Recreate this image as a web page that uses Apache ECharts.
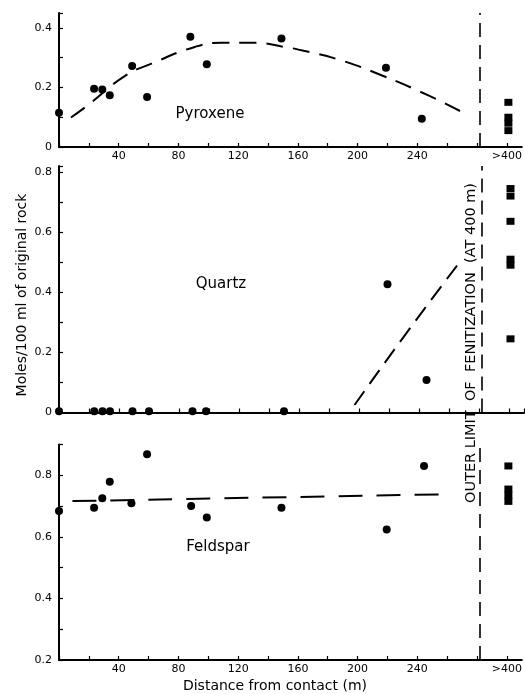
<!DOCTYPE html>
<html>
    <head>
        <meta charset="utf-8">
        <script src="https://cdn.jsdelivr.net/npm/echarts@6/dist/echarts.min.js"></script>
    </head>
    <body>
        <style>
            html, body, #main {
                width: 100%;
                height: 100%;
                margin: 0;
                background: #fff;
            }
        </style>
        <div id='main'></div>
        <script>
            // samples, distance from contact (m); ">400" samples are drawn at x = 301
            var pyrDist = [0, 23.5, 29, 34, 49, 59, 88, 99, 149, 219, 243];
            var pyrVal = [0.115, 0.196, 0.193, 0.174, 0.272, 0.168, 0.37, 0.278, 0.364, 0.266, 0.095];
            var pyrFar = [0.15, 0.10, 0.08, 0.055];
            var pyrFitX = [8, 20, 44, 62, 91, 109, 131, 151, 164, 187, 216, 247, 272];
            var pyrFitY = [0.099, 0.143, 0.238, 0.28, 0.336, 0.35, 0.35, 0.336, 0.323, 0.294, 0.241, 0.174, 0.112];

            var qtzDist = [0, 23.5, 29, 34, 49, 60, 89, 98, 150, 219, 245];
            var qtzVal = [0.004, 0.004, 0.004, 0.004, 0.004, 0.004, 0.004, 0.004, 0.004, 0.427, 0.108];
            var qtzFar = [0.745, 0.72, 0.636, 0.51, 0.49, 0.245];
            var qtzFitX = [197, 231, 266];
            var qtzFitY = [0.025, 0.26, 0.493];

            var felDist = [0, 23.5, 29, 34, 48.5, 59, 88.5, 99, 149, 219.5, 244.5];
            var felVal = [0.684, 0.694, 0.725, 0.779, 0.709, 0.868, 0.70, 0.663, 0.694, 0.624, 0.83];
            var felFar = [0.83, 0.755, 0.735, 0.715];
            var felFitX = [9, 258];
            var felFitY = [0.716, 0.738];

            var farX = 301;
            var limitX = 281.5;
            var xTickLabels = {40: '40', 80: '80', 120: '120', 160: '160', 200: '200', 240: '240', 300: '>400'};

            var font = 'DejaVu Sans';

            function zip(xs, ys) {
                return xs.map(function (x, i) { return [x, ys[i]]; });
            }
            function far(ys) {
                return ys.map(function (y) { return [farX, y]; });
            }

            var chart = echarts.init(document.getElementById('main'));

            function xAxis(idx, showLabels) {
                return {
                    type: 'value', gridIndex: idx, min: 0, max: 310, interval: 20,
                    axisLine: {lineStyle: {color: '#000', width: 2}},
                    axisTick: {inside: true, length: 4, lineStyle: {color: '#000', width: 1.2}},
                    splitLine: {show: false},
                    axisLabel: {
                        show: showLabels, color: '#000', fontSize: 11, fontFamily: font, margin: 4,
                        showMaxLabel: false,
                        formatter: function (v) { return xTickLabels[v] || ''; }
                    }
                };
            }
            function yAxis(idx, min, max) {
                return {
                    type: 'value', gridIndex: idx, min: min, max: max, interval: 0.1,
                    axisLine: {show: true, lineStyle: {color: '#000', width: 2}},
                    axisTick: {show: true, inside: true, length: 4, lineStyle: {color: '#000', width: 1.2}},
                    splitLine: {show: false},
                    axisLabel: {
                        color: '#000', fontSize: 11, fontFamily: font, margin: 7,
                        formatter: function (v) {
                            var r = Math.round(v * 10);
                            if (Math.abs(v * 10 - r) > 1e-6 || r % 2) return '';
                            return r === 0 ? '0' : v.toFixed(1);
                        }
                    }
                };
            }
            function dots(idx, data) {
                return {type: 'scatter', xAxisIndex: idx, yAxisIndex: idx, data: data,
                    symbol: 'circle', symbolSize: 8, itemStyle: {color: '#000', opacity: 1}, z: 5};
            }
            function squares(idx, data) {
                return {type: 'scatter', xAxisIndex: idx, yAxisIndex: idx, data: data,
                    symbol: 'rect', symbolSize: [8, 7], itemStyle: {color: '#000', opacity: 1}, z: 5};
            }
            function fit(idx, data, dash) {
                return {type: 'line', xAxisIndex: idx, yAxisIndex: idx, data: data,
                    smooth: true, showSymbol: false, silent: true,
                    lineStyle: {color: '#000', width: 2, type: dash},
                    markLine: {
                        silent: true, symbol: 'none', label: {show: false},
                        lineStyle: {color: '#000', width: 1.6, type: [14, 8]},
                        data: [{xAxis: limitX}]
                    }};
            }

            var option = {
                animation: false,
                backgroundColor: '#fff',
                grid: [
                    {left: 59, width: 465, top: 13, height: 134},
                    {left: 59, width: 465, top: 166, height: 246.5},
                    {left: 59, width: 465, top: 444.4, height: 215.6}
                ],
                xAxis: [xAxis(0, true), xAxis(1, false), xAxis(2, true)],
                yAxis: [yAxis(0, 0, 0.45), yAxis(1, 0, 0.82), yAxis(2, 0.2, 0.9)],
                series: [
                    dots(0, zip(pyrDist, pyrVal)),
                    squares(0, far(pyrFar)),
                    fit(0, zip(pyrFitX, pyrFitY), [17, 10]),
                    dots(1, zip(qtzDist, qtzVal)),
                    squares(1, far(qtzFar)),
                    fit(1, zip(qtzFitX, qtzFitY), [17, 9]),
                    dots(2, zip(felDist, felVal)),
                    squares(2, far(felFar)),
                    fit(2, zip(felFitX, felFitY), [24, 14])
                ],
                graphic: [
                    {type: 'text', x: 210, y: 114, style: {text: 'Pyroxene', font: '15px DejaVu Sans', fill: '#000', align: 'center', verticalAlign: 'middle'}},
                    {type: 'text', x: 221, y: 284, style: {text: 'Quartz', font: '15px DejaVu Sans', fill: '#000', align: 'center', verticalAlign: 'middle'}},
                    {type: 'text', x: 218, y: 547, style: {text: 'Feldspar', font: '15px DejaVu Sans', fill: '#000', align: 'center', verticalAlign: 'middle'}},
                    {type: 'text', x: 22, y: 295, rotation: Math.PI / 2, style: {text: 'Moles/100 ml of original rock', font: '14px DejaVu Sans', fill: '#000', align: 'center', verticalAlign: 'middle'}},
                    {type: 'text', x: 275, y: 686, style: {text: 'Distance from contact (m)', font: '14px DejaVu Sans', fill: '#000', align: 'center', verticalAlign: 'middle'}},
                    {type: 'text', x: 471, y: 343, rotation: Math.PI / 2, style: {text: 'OUTER LIMIT  OF  FENITIZATION  (AT 400 m)', font: '14.5px DejaVu Sans', fill: '#000', align: 'center', verticalAlign: 'middle'}}
                ]
            };
            chart.setOption(option);
        </script>
    </body>
</html>
